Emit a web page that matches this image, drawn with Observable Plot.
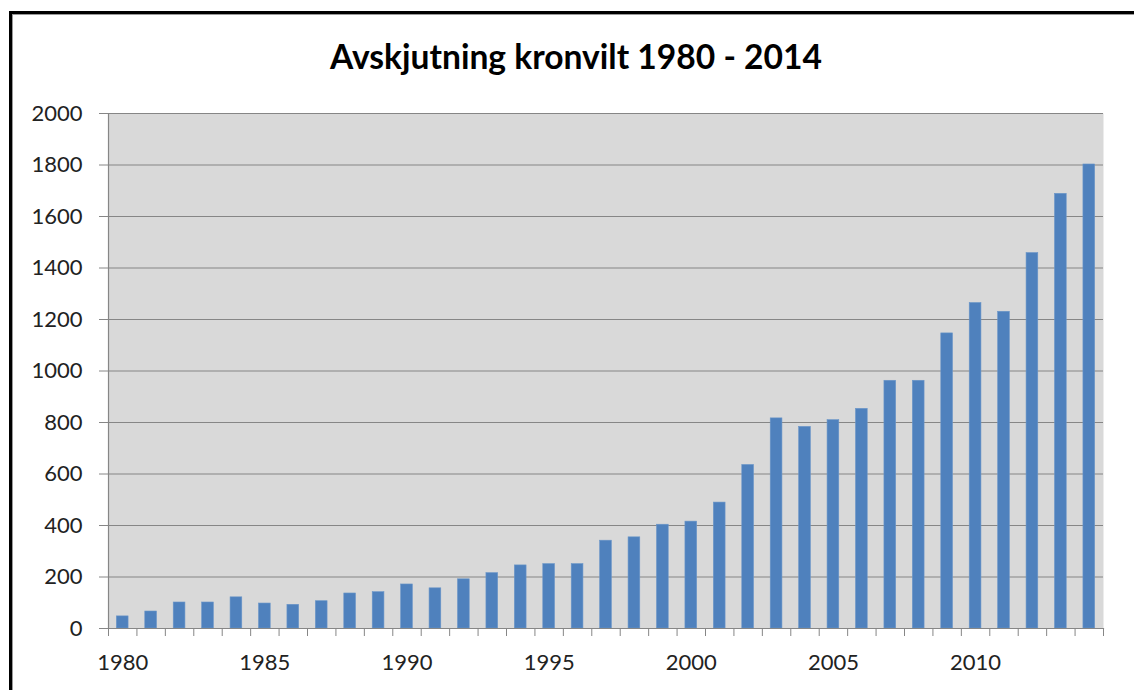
<!DOCTYPE html>
<html>
<head>
<meta charset="utf-8">
<script src="https://cdn.jsdelivr.net/npm/d3@7"></script>
<script src="https://cdn.jsdelivr.net/npm/@observablehq/plot@0.6"></script>
<style>
  html, body { margin: 0; padding: 0; background: #fff; overflow: hidden; }
  #wrap { position: relative; width: 1134px; height: 690px; overflow: hidden; }
  #border { position: absolute; left: 9px; top: 11px; width: 2000px; height: 2000px;
            border-left: 3px solid #000; border-top: 3px solid #000;
            box-shadow: inset 1px 1px 0 #9a9a9a; pointer-events: none; }
  #wrap svg { position: absolute; left: 0; top: 0; }
</style>
</head>
<body>
<div id="wrap"><div id="border"></div></div>
<script>
const title = "Avskjutning kronvilt 1980 - 2014";
const years = [1980,1981,1982,1983,1984,1985,1986,1987,1988,1989,
               1990,1991,1992,1993,1994,1995,1996,1997,1998,1999,
               2000,2001,2002,2003,2004,2005,2006,2007,2008,2009,
               2010,2011,2012,2013,2014];
const values = [47,66,101,101,121,97,92,106,136,141,
                171,156,191,215,245,250,250,341,354,403,
                415,489,635,816,783,809,853,962,962,1146,
                1264,1230,1458,1688,1802];
const yTicks = [0,200,400,600,800,1000,1200,1400,1600,1800,2000];
const xLabels = [1980,1985,1990,1995,2000,2005,2010];

const data = years.map((year, i) => ({year, value: values[i]}));
const boundaries = years.map(y => y - 0.5).concat([years[years.length - 1] + 0.5]);
const half = 0.206;
const grey = "#868686";

const chart = Plot.plot({
  width: 1134,
  height: 690,
  marginLeft: 108,
  marginRight: 31,
  marginTop: 113,
  marginBottom: 62,
  style: {fontFamily: "Lato, 'Open Sans', sans-serif", fontSize: "22px", color: "#222", background: "transparent"},
  x: {domain: [boundaries[0], boundaries[boundaries.length - 1]]},
  y: {domain: [0, 2000]},
  marks: [
    Plot.frame({fill: "#d9d9d9", stroke: null}),
    Plot.gridY({ticks: yTicks.slice(1), stroke: grey, strokeOpacity: 1, strokeWidth: 1.2}),
    Plot.rectY(data, {x1: d => d.year - half, x2: d => d.year + half, y: "value", fill: "#4f81bd", stroke: "#6a96c8", strokeWidth: 0.6}),
    Plot.frame({anchor: "left", stroke: grey, strokeWidth: 1.2}),
    Plot.frame({anchor: "bottom", stroke: grey, strokeWidth: 1.2}),
    Plot.axisY({ticks: yTicks, tickSize: 9, tickPadding: 17, tickFormat: d => String(d), stroke: grey, fill: "#222", label: null}),
    Plot.axisX({ticks: boundaries, tickSize: 8, tickFormat: () => "", stroke: grey, label: null}),
    Plot.axisX({ticks: xLabels, tickSize: 0, tickPadding: 26, tickFormat: d => String(d), fill: "#222", label: null}),
    Plot.text([title], {frameAnchor: "top", dx: -30, dy: -55, lineAnchor: "middle", fontSize: 33.6, fontWeight: "bold", fill: "#000"})
  ]
});
document.getElementById("wrap").appendChild(chart);
</script>
</body>
</html>
